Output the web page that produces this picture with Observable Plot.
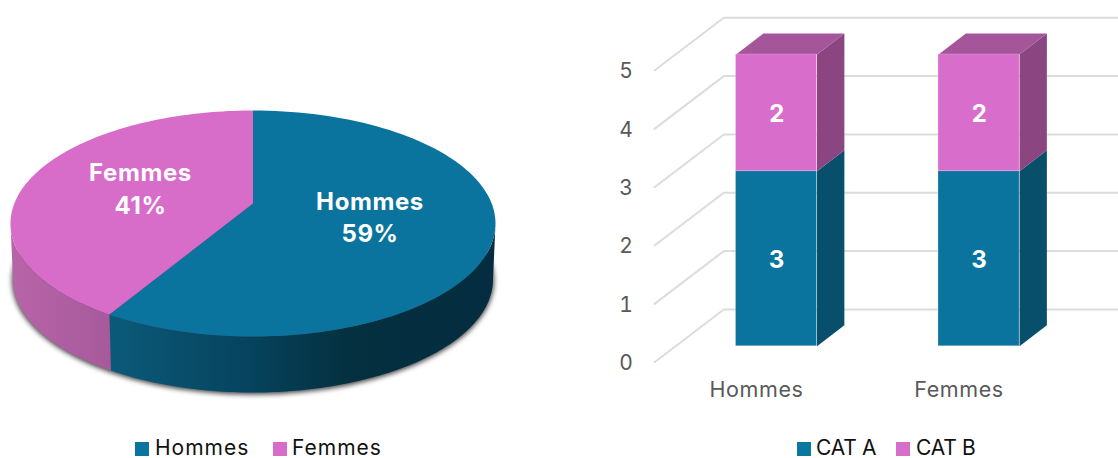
<!DOCTYPE html>
<html><head><meta charset="utf-8">
<script src="https://cdn.jsdelivr.net/npm/d3@7"></script>
<script src="https://cdn.jsdelivr.net/npm/@observablehq/plot@0.6"></script>
<style>
html,body{margin:0;padding:0;background:#fff}
#row{display:flex;width:1118px;height:430px}
#legend{position:relative;width:1118px;height:28px;font-family:Inter,sans-serif;font-size:21px;letter-spacing:1px;color:#111}
#legend i{position:absolute;top:12px;width:14px;height:14px}
#legend span{position:absolute;top:8px;line-height:20px;white-space:nowrap}
#legend span.cat{letter-spacing:-.25px}
</style></head><body>
<div id="row"></div><div id="legend"></div>
<script>
// ---- data ----
const pieLabels = ["Hommes", "Femmes"];
const pieShares = [59, 41];
const barCategories = ["Hommes", "Femmes"];
const seriesNames = ["CAT A", "CAT B"];
const catA = [3, 3];
const catB = [2, 2];
const yTicks = [0, 1, 2, 3, 4, 5];

// ---- styles ----
const BLUE = "#0b749e", PINK = "#d76dc9";
const FONT = "Inter, sans-serif";
const LABEL = {fontFamily: FONT, fontWeight: 700, fill: "white", fontSize: 24};

// ---- pie (oblique projection of a disc) ----
const cx = 252.5, topE = {cy: 223, rx: 242.5, ry: 113}, botE = {cy: 279, rx: 240, ry: 113};
const apexY = 203, k = 0.12, s = Math.sqrt(1 - k * k);
const toPhi = t => {
  const u = Math.sin(t), v = -Math.cos(t), d = 1 - k * v;
  const sx = s * u / d, sy = -k + (1 - k * k) * v / d;
  let p = Math.atan2(sx, -sy); if (p < 0) p += 2 * Math.PI; return p;
};
const pt = (E, p) => ({x: cx + E.rx * Math.sin(p), y: E.cy - E.ry * Math.cos(p)});
const arc = (E, a, b) => d3.range(0, 121).map(i => pt(E, a + (b - a) * i / 120));
const total = d3.sum(pieShares);
const split = toPhi(2 * Math.PI * pieShares[0] / total);
const poly = (pts, fill, extra = {}) => Plot.line(pts, {x: "x", y: "y", fill, stroke: "none", curve: "linear", ...extra});
const apex = {x: cx, y: apexY};
const R = Math.PI / 2, L = 3 * Math.PI / 2;

const defs = () => {
  const d = d3.create("svg:defs");
  const g = (id, stops) => {
    const lg = d.append("linearGradient").attr("id", id);
    stops.forEach(([o, c]) => lg.append("stop").attr("offset", o).attr("stop-color", c));
  };
  g("sideBlue", [[0, "#0b5a7a"], [0.35, "#06445f"], [0.62, "#04303f"], [1, "#052c40"]]);
  g("sidePink", [[0, "#b864a8"], [1, "#a65a9b"]]);
  return d.node();
};
const shadow = arc({cy: botE.cy + 1, rx: botE.rx + 1, ry: botE.ry + 1}, 0, 2 * Math.PI);

const pie = Plot.plot({
  width: 559, height: 430, margin: 0, style: {background: "transparent", letterSpacing: "0.6px"},
  x: {domain: [0, 559], range: [0, 559], axis: null},
  y: {domain: [0, 430], range: [0, 430], axis: null},
  marks: [
    defs,
    poly(shadow, "#444", {imageFilter: "blur(2.5px)"}),
    poly([...arc(topE, R, split), ...arc(botE, split, R)], "url(#sideBlue)"),
    poly([...arc(topE, split, L), ...arc(botE, L, split)], "url(#sidePink)"),
    poly([apex, ...arc(topE, 0, split)], BLUE),
    poly([apex, ...arc(topE, split, 2 * Math.PI)], PINK),
    Plot.text([pieLabels[0]], {x: [369.5], y: [202], text: d => d, ...LABEL}),
    Plot.text([pieShares[0] + "%"], {x: [369.5], y: [234], text: d => d, ...LABEL}),
    Plot.text([pieLabels[1]], {x: [140], y: [173], text: d => d, ...LABEL}),
    Plot.text([pieShares[1] + "%"], {x: [140], y: [206], text: d => d, ...LABEL})
  ]
});

// ---- 3-D stacked bars ----
const wallDx = 0.3422, wallDy = 0.904;  // back wall offset, in scale units
const baseY = 0.274, barHalf = 0.2, barShift = 0.094, depthX = 0.135, depthY = 0.36;
const centers = barCategories.map((_, i) => 0.5086 + i);
const rows = barCategories.flatMap((c, i) => {
  const x1 = centers[i] + barShift - barHalf, x2 = centers[i] + barShift + barHalf;
  return [
    {cat: c, name: seriesNames[0], value: catA[i], x1, x2, y1: baseY, y2: baseY + catA[i]},
    {cat: c, name: seriesNames[1], value: catB[i], x1, x2, y1: baseY + catA[i], y2: baseY + catA[i] + catB[i]}
  ];
});
const sideColor = {[seriesNames[0]]: "#074f6b", [seriesNames[1]]: "#8b4682"};
const frontColor = [BLUE, "#d96dcb"];
const xMax = (1118 - 654) / 202.5;
const grid = yTicks.flatMap(v => [
  {t: v, x: 0, y: v}, {t: v, x: wallDx, y: v + wallDy}, {t: v, x: xMax, y: v + wallDy}
]);
const sides = rows.map(r => Plot.line([
  {x: r.x2, y: r.y1}, {x: r.x2 + depthX, y: r.y1 + depthY},
  {x: r.x2 + depthX, y: r.y2 + depthY}, {x: r.x2, y: r.y2}
], {x: "x", y: "y", fill: sideColor[r.name], stroke: "none"}));
const tops = rows.filter(r => r.name === seriesNames[1]).map(r => Plot.line([
  {x: r.x1, y: r.y2}, {x: r.x2, y: r.y2},
  {x: r.x2 + depthX, y: r.y2 + depthY}, {x: r.x1 + depthX, y: r.y2 + depthY}
], {x: "x", y: "y", fill: "#a5569b", stroke: "none"}));

const bars = Plot.plot({
  width: 559, height: 430, marginLeft: 95, marginRight: 0, marginTop: 0, marginBottom: 68.3,
  style: {background: "transparent", overflow: "visible", letterSpacing: "0.6px"},
  x: {domain: [0, xMax], range: [95, 559], label: null},
  y: {domain: [0, 5], range: [361.7, 70], label: null},
  color: {domain: seriesNames, range: frontColor},
  marks: [
    Plot.line(grid, {x: "x", y: "y", z: "t", stroke: "#dcdcdc", strokeWidth: 2, curve: "linear"}),
    Plot.axisY({ticks: yTicks, tickSize: 0, tickPadding: 21, anchor: "left", fontSize: 21, fontFamily: FONT, color: "#595959", label: null, tickFormat: d => d, dy: 1}),
    Plot.axisX({ticks: centers, tickSize: 0, tickPadding: 20, anchor: "bottom", fontSize: 21.5, fontFamily: FONT, color: "#595959", label: null, tickFormat: (d, i) => barCategories[i], dx: -1}),
    ...sides, ...tops,
    Plot.rect(rows, {x1: "x1", x2: "x2", y1: "y1", y2: "y2", fill: "name", stroke: "white", strokeOpacity: 0.18, strokeWidth: 1}),
    Plot.text(rows, {x: d => (d.x1 + d.x2) / 2, y: d => (d.y1 + d.y2) / 2, dx: 0.5, dy: 1.5, text: "value", ...LABEL})
  ]
});
document.getElementById("row").append(pie, bars);

// ---- legends ----
const legend = document.getElementById("legend");
const addKey = (swatchX, textX, color, label, cls) => {
  const i = document.createElement("i"); i.style.left = swatchX + "px"; i.style.background = color;
  const t = document.createElement("span"); t.style.left = textX + "px"; t.textContent = label;
  if (cls) t.className = cls;
  legend.append(i, t);
};
addKey(135, 155, BLUE, pieLabels[0]);
addKey(273, 292, PINK, pieLabels[1]);
addKey(797, 816, "#0b76a0", seriesNames[0], "cat");
addKey(896, 916, "#d86ecc", seriesNames[1], "cat");
</script></body></html>
